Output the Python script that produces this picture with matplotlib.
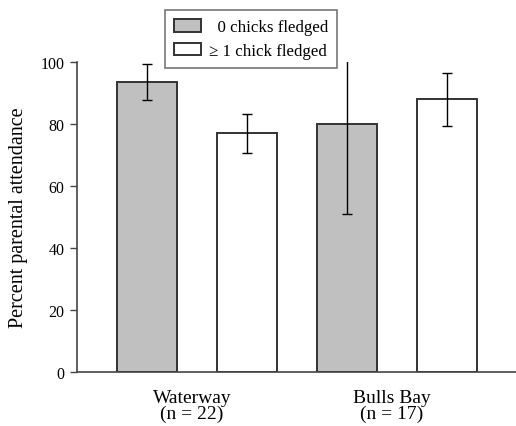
import matplotlib
matplotlib.use('Agg')
import matplotlib.pyplot as plt
import numpy as np

# data
sites = ['Waterway\n(n = 22)', 'Bulls Bay\n(n = 17)']
groups = ['  0 chicks fledged', '\u2265 1 chick fledged']
zero_mean = [93.5, 80.0]
zero_err = [5.7, 29.0]
one_mean = [77.0, 88.0]
one_err = [6.3, 8.5]
y_ticks = [0, 20, 40, 60, 80, 100]

plt.rcParams['font.family'] = ['Liberation Serif', 'DejaVu Serif']
plt.rcParams['font.size'] = 11.5

fig = plt.figure(figsize=(5.16, 4.27), dpi=100)
ax = fig.add_axes([77 / 516, 54 / 427, 1 - 77 / 516, 310 / 427])

x = np.arange(len(sites)) * 2
w = 0.6
edge = '#333333'
ax.bar(x, zero_mean, w, color='#c0c0c0', edgecolor=edge, linewidth=1.4,
       label=groups[0], zorder=2)
ax.bar(x + 1, one_mean, w, color='white', edgecolor=edge, linewidth=1.4,
       label=groups[1], zorder=2)
ax.errorbar(x, zero_mean, yerr=zero_err, fmt='none', ecolor='black',
            elinewidth=1.0, capsize=3.6, capthick=1.0, zorder=3)
ax.errorbar(x + 1, one_mean, yerr=one_err, fmt='none', ecolor='black',
            elinewidth=1.0, capsize=3.6, capthick=1.0, zorder=3)

ax.set_xlim(-0.7, 3.69)
ax.set_ylim(0, 100)
ax.set_yticks(y_ticks)
ax.set_xticks(x + 0.45)
ax.set_xticklabels(sites, linespacing=0.95, fontsize=14)
ax.tick_params(axis='x', length=0, pad=12)
ax.tick_params(axis='y', direction='out', length=5, width=1.0,
               color='#444444', pad=4)
ax.set_ylabel('Percent parental attendance', fontsize=14.5, labelpad=9)

for s in ['top', 'right']:
    ax.spines[s].set_visible(False)
for s in ['left', 'bottom']:
    ax.spines[s].set_color('#444444')
    ax.spines[s].set_linewidth(1.2)

leg = ax.legend(loc='upper center', bbox_to_anchor=(251 / 516, 1 - 11 / 427),
                bbox_transform=fig.transFigure, fancybox=False, fontsize=12.2,
                edgecolor='#777777', framealpha=1, handlelength=1.6,
                handleheight=0.75, handletextpad=0.45, borderpad=0.55,
                labelspacing=0.45, borderaxespad=0)
leg.get_frame().set_linewidth(1.2)

fig.savefig('out.png', dpi=100)
